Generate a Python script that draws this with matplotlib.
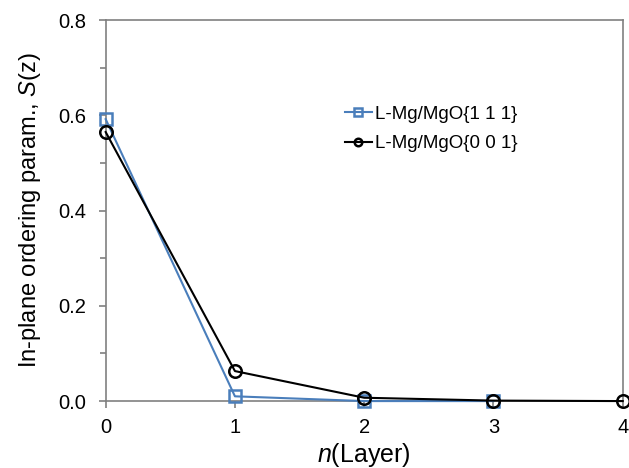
import numpy as np
import matplotlib
matplotlib.use('Agg')
import matplotlib.pyplot as plt
from matplotlib.ticker import MultipleLocator, FormatStrFormatter

plt.rcParams['font.family'] = ['Liberation Sans', 'DejaVu Sans']
plt.rcParams['mathtext.fontset'] = 'custom'
plt.rcParams['mathtext.it'] = 'Liberation Sans:italic'
plt.rcParams['mathtext.rm'] = 'Liberation Sans'

# ordering parameter per layer
layer_111 = [0, 1, 2, 3]
s_111 = [0.592, 0.010, 0.000, 0.000]
layer_001 = [0, 1, 2, 3, 4]
s_001 = [0.565, 0.063, 0.007, 0.001, 0.000]

fig = plt.figure(figsize=(6.29, 4.68), dpi=100)
ax = fig.add_axes([0.168, 0.143, 0.822, 0.814])

ax.plot(layer_111, s_111, color='#4a7ebb', lw=1.5, marker='s', ms=9,
        mfc='none', mew=1.8, label='L-Mg/MgO{1 1 1}', zorder=3, clip_on=False)
ax.plot(layer_001, s_001, color='black', lw=1.5, marker='o', ms=9,
        mfc='none', mew=1.8, label='L-Mg/MgO{0 0 1}', zorder=4, clip_on=False)

ax.set_xlim(0, 4)
ax.set_ylim(0, 0.8)
ax.xaxis.set_major_locator(MultipleLocator(1))
ax.yaxis.set_major_locator(MultipleLocator(0.2))
ax.yaxis.set_minor_locator(MultipleLocator(0.1))
ax.yaxis.set_major_formatter(FormatStrFormatter('%.1f'))

for sp in ax.spines.values():
    sp.set_color('#808080')
    sp.set_linewidth(1.2)
ax.tick_params(axis='both', which='both', direction='out', color='#808080',
               labelsize=14.5, width=1.2)
ax.tick_params(axis='y', which='major', length=5, pad=9)
ax.tick_params(axis='y', which='minor', length=4)
ax.tick_params(axis='x', which='major', length=5, pad=7)

ax.set_xlabel(r'$n$(Layer)', fontsize=18, labelpad=3)
ax.set_ylabel(r'In-plane ordering param., $S$(z)', fontsize=17, labelpad=11)

leg = ax.legend(loc='upper left', bbox_to_anchor=(0.462, 0.775), frameon=False,
                fontsize=13.5, handlelength=1.45, handletextpad=0.16,
                labelspacing=0.65, markerscale=0.6, borderpad=0,
                borderaxespad=0)

fig.savefig('out.png', dpi=100)
